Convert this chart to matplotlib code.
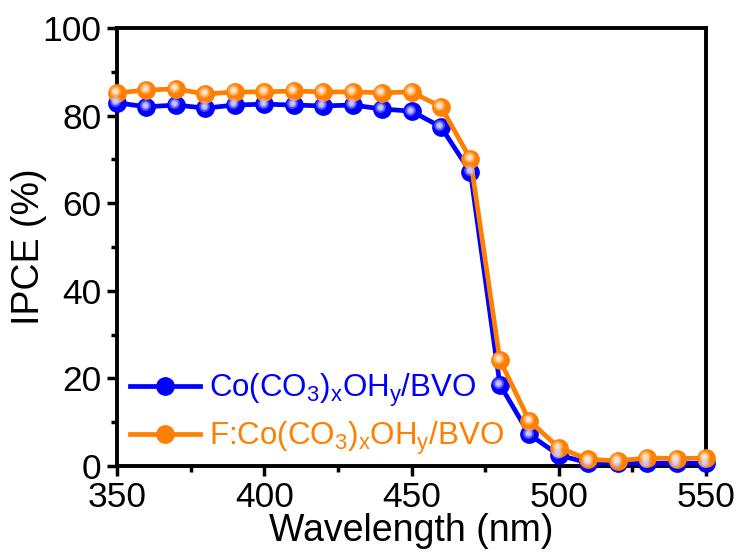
import matplotlib
matplotlib.use("Agg")
import matplotlib.pyplot as plt
import matplotlib.transforms as mtransforms
from matplotlib.ticker import MultipleLocator

plt.rcParams['font.family'] = ['Liberation Sans', 'DejaVu Sans']
plt.rcParams['mathtext.fontset'] = 'custom'
plt.rcParams['mathtext.rm'] = 'Liberation Sans'
plt.rcParams['mathtext.it'] = 'Liberation Sans'
plt.rcParams['mathtext.default'] = 'regular'

wavelength = [350, 360, 370, 380, 390, 400, 410, 420, 430, 440, 450,
              460, 470, 480, 490, 500, 510, 520, 530, 540, 550]
ipce_co = [82.9, 82.0, 82.4, 81.7, 82.4, 82.6, 82.4, 82.2, 82.4, 81.5, 81.0,
           77.4, 67.1, 18.6, 7.2, 2.5, 0.7, 0.6, 0.6, 0.6, 0.6]
ipce_fco = [85.2, 85.8, 86.1, 84.9, 85.4, 85.4, 85.6, 85.4, 85.4, 85.2, 85.4,
            82.0, 70.1, 24.2, 10.3, 4.2, 1.5, 1.2, 1.8, 1.7, 1.8]
labels = [r'Co(CO$_3$)$_x$OH$_y$/BVO', r'F:Co(CO$_3$)$_x$OH$_y$/BVO']
colors = ['#0000ff', '#ff7f00']
highlights = ['#c8c8ff', '#ffe6c8']

fig = plt.figure(figsize=(7.42, 5.59), dpi=100)
ax = fig.add_axes([0.1577, 0.1664, 0.7938, 0.7836])

handles = []
for ys, c, hl, lab in zip([ipce_co, ipce_fco], colors, highlights, labels):
    ln, = ax.plot(wavelength, ys, '-', color=c, lw=3.4, marker='o', ms=13.5,
                  mfc=c, mec=c, mew=0, label=lab, clip_on=False, zorder=3)
    handles.append(ln)
    # sphere highlight
    for s, a in [(8, 0.35), (5.5, 0.6), (3.5, 0.95)]:
        off = mtransforms.offset_copy(ax.transData, fig=fig, x=-1.2, y=1.2, units='points')
        ax.plot(wavelength, ys, 'o', color=hl, ms=s, mew=0, alpha=a,
                transform=off, clip_on=False, zorder=4)

ax.set_xlim(350, 550)
ax.set_ylim(0, 100)
ax.xaxis.set_major_locator(MultipleLocator(50))
ax.xaxis.set_minor_locator(MultipleLocator(25))
ax.yaxis.set_major_locator(MultipleLocator(20))
ax.yaxis.set_minor_locator(MultipleLocator(10))
ax.tick_params(which='both', direction='out', width=2.5, labelsize=25.5,
               top=False, right=False)
ax.tick_params(which='major', length=7)
ax.tick_params(which='minor', length=4.5)
ax.tick_params(axis='x', which='major', pad=4)
ax.tick_params(axis='y', which='major', pad=4)
for sp in ax.spines.values():
    sp.set_linewidth(2.8)

ax.set_xlabel('Wavelength (nm)', fontsize=27, labelpad=-1)
ax.set_ylabel('IPCE (%)', fontsize=27, labelpad=-3)

leg = ax.legend(handles=handles, loc='lower left', bbox_to_anchor=(0.0, -0.007),
                frameon=False, fontsize=22.5, handlelength=2.25, handletextpad=0.3,
                labelspacing=0.32, borderaxespad=0.0, borderpad=0.4)
for t, c in zip(leg.get_texts(), colors):
    t.set_color(c)

fig.savefig('out.png', dpi=100)
